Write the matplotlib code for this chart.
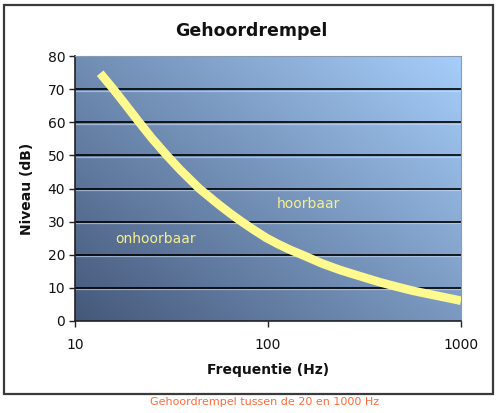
import numpy as np
import matplotlib
matplotlib.use("Agg")
import matplotlib.pyplot as plt
from matplotlib.patches import Rectangle
from matplotlib.colors import to_rgb
import matplotlib.transforms as mtransforms

# Data
freq_hz = [13.5, 15.8, 18, 21.5, 25, 29.9, 35, 44, 56, 64, 73, 85, 98, 112, 130,
           150, 190, 236, 282, 380, 483, 566, 968, 1000]
level_db = [74.8, 70, 65.8, 60, 55.2, 50, 45.7, 40, 35.0, 32.4, 30, 27.4, 25.1,
            23.3, 21.5, 20, 17.4, 15.4, 14.0, 11.7, 10.1, 9.1, 6.3, 6.1]
y_ticks = [0, 10, 20, 30, 40, 50, 60, 70, 80]
x_ticks = [10, 100, 1000]
x_tick_labels = ["10", "100", "1000"]

fig = plt.figure(figsize=(5.0, 4.13), dpi=100)
W, H = 500, 413

# outer frame
frame = Rectangle((4 / W, (H - 394) / H), (493 - 4) / W, (394 - 5) / H,
                  transform=fig.transFigure, facecolor="white",
                  edgecolor="#3a3a3a", linewidth=1.6, zorder=-10)
fig.patches.append(frame)

ax = fig.add_axes([75 / W, (H - 321) / H, (461 - 75) / W, (321 - 56) / H])
ax.set_zorder(1)
ax.set_xscale("log")
ax.set_xlim(10, 1000)
ax.set_ylim(0, 80)

# gradient background
nx, ny = 200, 200
xx, yy = np.meshgrid(np.linspace(0, 1, nx), np.linspace(0, 1, ny))
t = np.clip(0.55 * xx + 0.45 * yy, 0, 1)
c0 = np.array(to_rgb("#45587a"))
c1 = np.array(to_rgb("#a6cefa"))
img = c0[None, None, :] * (1 - t[..., None]) + c1[None, None, :] * t[..., None]
ax.imshow(img, extent=[0, 1, 0, 1], transform=ax.transAxes, origin="lower",
          aspect="auto", zorder=0, interpolation="bilinear")

# gridlines with a light highlight under each
offset = mtransforms.ScaledTranslation(0, -1.5 / 100, fig.dpi_scale_trans)
ytrans = ax.get_yaxis_transform()
for yv in y_ticks[1:-1]:
    ax.plot([0, 1], [yv, yv], color="#c8dcf5", lw=0.9, alpha=0.6, zorder=1,
            transform=ytrans + offset)
    ax.plot([0, 1], [yv, yv], color="black", lw=1.2, zorder=2,
            transform=ytrans)

ax.plot(freq_hz, level_db, color="#fffa90", lw=6.2, solid_capstyle="butt",
        solid_joinstyle="round", zorder=3)

txt_col = "#f6f08e"
ax.text(16.1, 24.8, "onhoorbaar", color=txt_col, fontsize=10, ha="left",
        va="center", zorder=4)
ax.text(111, 35.3, "hoorbaar", color=txt_col, fontsize=10, ha="left",
        va="center", zorder=4)

ax.set_xlim(10, 1000)
ax.set_ylim(0, 80)
ax.set_yticks(y_ticks)
ax.set_yticklabels([str(v) for v in y_ticks])
ax.set_xticks(x_ticks)
ax.set_xticklabels(x_tick_labels)
ax.minorticks_off()
ax.tick_params(axis="both", direction="out", length=4, width=1, color="#222",
               labelsize=10, labelcolor="#111")
ax.tick_params(axis="x", pad=8)
ax.tick_params(axis="y", pad=3)

for s in ["left", "bottom"]:
    ax.spines[s].set_color("#222")
    ax.spines[s].set_linewidth(1.2)
for s in ["top", "right"]:
    ax.spines[s].set_color("#8a9ab0")
    ax.spines[s].set_linewidth(0.8)

ax.set_xlabel("Frequentie (Hz)", fontsize=10, fontweight="bold", labelpad=8,
              color="#111")
ax.set_ylabel("Niveau (dB)", fontsize=10, fontweight="bold", labelpad=10,
              color="#111")

fig.text(251 / W, 1 - 31 / H, "Gehoordrempel", fontsize=12.5, fontweight="bold",
         ha="center", va="center", color="#111")
fig.text(265 / W, 1 - 402 / H, "Gehoordrempel tussen de 20 en 1000 Hz",
         fontsize=8, ha="center", va="center", color="#ff6a3a")

fig.savefig("out.png", dpi=100)
